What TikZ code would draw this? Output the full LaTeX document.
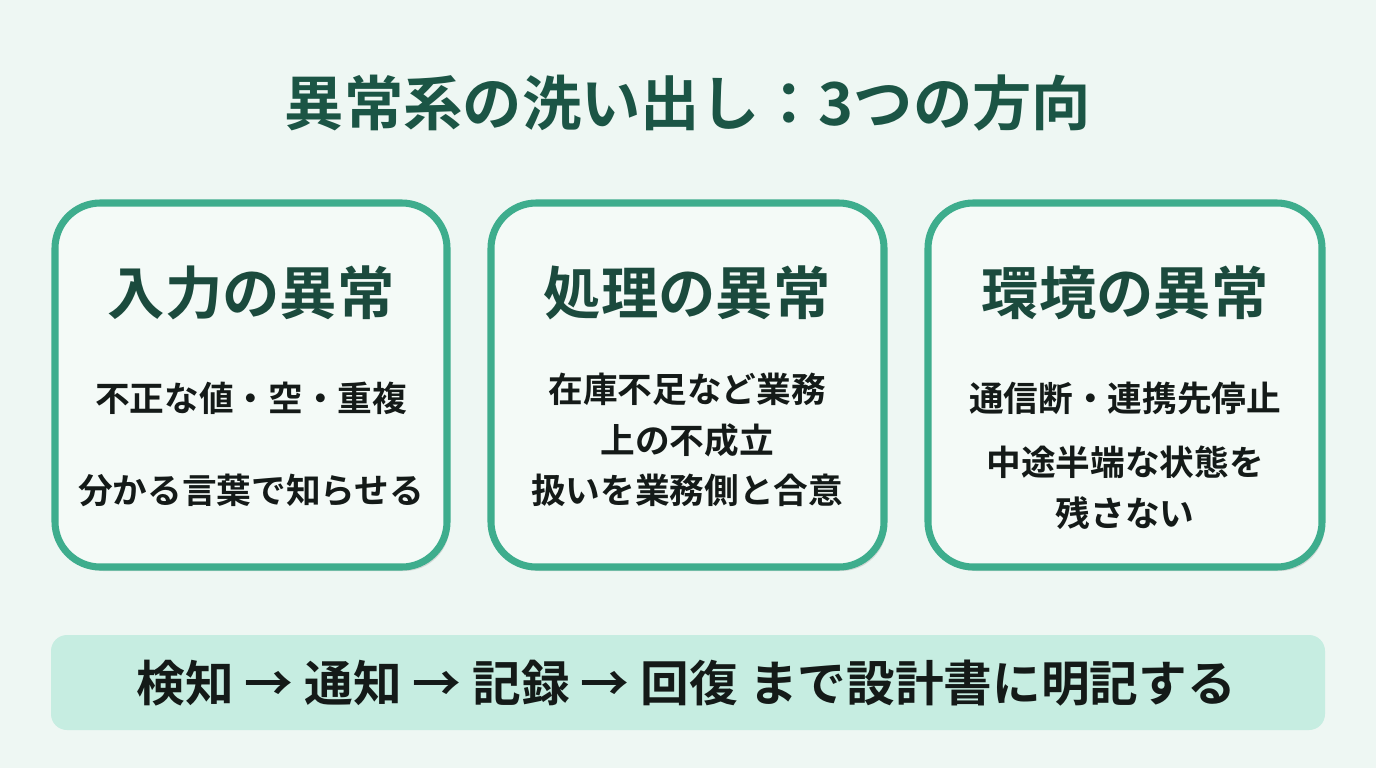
\documentclass[tikz,border=0pt]{standalone}
\usepackage{fontspec}
\setmainfont{Noto Sans CJK JP}[BoldFont={* Bold}]
\usetikzlibrary{shadows}
\definecolor{bgc}{HTML}{EEF7F3}
\definecolor{boxfill}{HTML}{F4FAF7}
\definecolor{boxline}{HTML}{3EAD8D}
\definecolor{titlec}{HTML}{1B5545}
\definecolor{headc}{HTML}{1B4A3D}
\definecolor{bodyc}{HTML}{141A18}
\definecolor{barc}{HTML}{C6EDE1}
\tikzset{
  card/.style={draw=boxline, line width=5.3pt, fill=boxfill, rounded corners=34pt,
    drop shadow={shadow xshift=2pt, shadow yshift=-3pt, opacity=0.12, fill=black}},
  headtxt/.style={font=\fontsize{43}{50}\selectfont\bfseries, text=headc},
  bodytxt/.style={font=\fontsize{26}{38}\selectfont\bfseries, text=bodyc, align=center},
}
\begin{document}
\begin{tikzpicture}[x=0.75pt,y=-0.75pt]
\fill[bgc] (0,0) rectangle (1376,768);
\useasboundingbox (0,0) rectangle (1376,768);
\node[font=\fontsize{44.5}{52}\selectfont\bfseries, text=titlec] (title) at (688,103) {異常系の洗い出し：3つの方向};
% cards
\path[card] (55,203) rectangle (447,567);
\path[card] (491,203) rectangle (884,567);
\path[card] (928,203) rectangle (1322,567);
\node[headtxt] (h1) at (251,293) {入力の異常};
\node[headtxt] (h2) at (687,293) {処理の異常};
\node[headtxt] (h3) at (1125,293) {環境の異常};
\node[bodytxt] (b1a) at (251,398) {不正な値・空・重複};
\node[bodytxt] (b1b) at (251,490) {分かる言葉で知らせる};
\node[bodytxt] (b2) at (687,440) {在庫不足など業務\\上の不成立\\扱いを業務側と合意};
\node[bodytxt] (b3a) at (1125,398) {通信断・連携先停止};
\node[bodytxt] (b3b) at (1125,488) {中途半端な状態を\\残さない};
% bottom bar
\fill[barc, rounded corners=12pt] (51,635) rectangle (1325,730);
\node[font=\fontsize{36.5}{44}\selectfont\bfseries, text=bodyc] (bar) at (686,683) {検知 → 通知 → 記録 → 回復 まで設計書に明記する};
\end{tikzpicture}
\end{document}
